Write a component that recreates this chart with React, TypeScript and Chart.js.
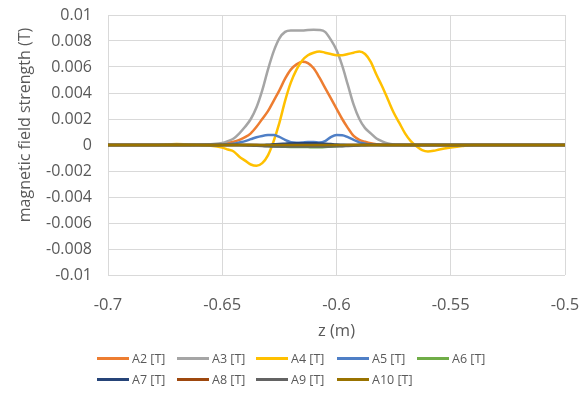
import React, { useEffect, useRef } from "react";
import { Chart, registerables } from "chart.js";

Chart.register(...registerables);

// z positions (m)
const zValues = [
  -0.7, -0.68, -0.67, -0.66, -0.655,
  -0.65, -0.6475, -0.645, -0.6425, -0.64, -0.6375, -0.635, -0.6325, -0.63, -0.6275,
  -0.625, -0.6225, -0.62, -0.6175, -0.615, -0.6125, -0.61, -0.6075, -0.605, -0.6025,
  -0.6, -0.5975, -0.595, -0.5925, -0.59, -0.5875, -0.585, -0.5825, -0.58, -0.5775,
  -0.575, -0.5725, -0.57, -0.5675, -0.565, -0.5625, -0.56, -0.5575, -0.555,
  -0.55, -0.545, -0.54, -0.52, -0.5,
];

const a2 = [
  0, 0, 0, 0, 0.00002,
  0.00008, 0.00015, 0.00025, 0.0004, 0.0006, 0.0009, 0.0014, 0.002, 0.0026, 0.0034,
  0.0042, 0.0051, 0.0058, 0.0062, 0.0064, 0.0063, 0.0059, 0.0052, 0.0044, 0.0036,
  0.0028, 0.002, 0.0013, 0.0007, 0.0004, 0.00025, 0.00013, 0.00006, 0.00002, 0,
  0, 0, 0, 0, 0, 0, 0, 0, 0,
  0, 0, 0, 0, 0,
];
const a3 = [
  0, 0, 0, 0.00002, 0.00006,
  0.00015, 0.0003, 0.0005, 0.0009, 0.0014, 0.002, 0.0029, 0.0042, 0.0058, 0.0072,
  0.0082, 0.0087, 0.0088, 0.0088, 0.0088, 0.00885, 0.00887, 0.00885, 0.0087, 0.0081,
  0.0073, 0.0061, 0.0046, 0.0031, 0.002, 0.0013, 0.0009, 0.0005, 0.00028, 0.00012,
  0.00004, 0.00001, 0, 0, 0, 0, 0, 0, 0,
  0, 0, 0, 0, 0,
];
const a4 = [
  0, 0, 0.00008, 0, -0.00005,
  -0.0002, -0.00035, -0.0005, -0.0009, -0.0012, -0.0015, -0.0016, -0.0014, -0.0008, 0.0003,
  0.0017, 0.0034, 0.0048, 0.0058, 0.0065, 0.0069, 0.0071, 0.0072, 0.0071, 0.007,
  0.0069, 0.0069, 0.007, 0.0071, 0.0072, 0.007, 0.0064, 0.0054, 0.0045, 0.0035,
  0.0025, 0.0017, 0.0009, 0.0003, -0.0001, -0.0004, -0.0005, -0.00045, -0.00035,
  -0.0002, -0.00008, 0, 0, 0,
];
const a5 = [
  0, 0, 0, 0, 0,
  0.00002, 0.00005, 0.0001, 0.0002, 0.0003, 0.00045, 0.0006, 0.0007, 0.00076, 0.00077,
  0.00062, 0.0004, 0.00022, 0.00018, 0.0002, 0.00024, 0.00024, 0.0002, 0.0003, 0.0006,
  0.00076, 0.00075, 0.0006, 0.0004, 0.0002, 0.0001, 0.00004, 0.00001, 0, 0,
  0, 0, 0, 0, 0, 0, 0, 0, 0,
  0, 0, 0, 0, 0,
];
const a6 = [
  0, 0, 0, 0, 0,
  0, 0, 0, 0, 0, 0, -0.00002, -0.00005, -0.00008, -0.0001,
  -0.00012, -0.00014, -0.00015, -0.00015, -0.00015, -0.00016, -0.00018, -0.00017, -0.00015, -0.00012,
  -0.0001, -0.00007, -0.00005, -0.00002, 0, 0, 0, 0, 0, 0,
  0, 0, 0, 0, 0, 0, 0, 0, 0,
  0, 0, 0, 0, 0,
];
const a7 = [
  0, 0, 0, 0, 0,
  0, 0, 0, 0, 0, 0, 0, 0, 0.00002, 0.00005,
  0.00008, 0.0001, 0.00012, 0.00013, 0.00014, 0.00014, 0.00013, 0.00012, 0.0001, 0.00007,
  0.00004, 0.00002, 0, 0, 0, 0, 0, 0, 0, 0,
  0, 0, 0, 0, 0, 0, 0, 0, 0,
  0, 0, 0, 0, 0,
];
const a8 = [
  0, 0, 0, 0, 0,
  0, 0, 0, 0, 0, 0, 0, -0.00002, -0.00003, -0.00004,
  -0.00005, -0.00005, -0.00005, -0.00005, -0.00005, -0.00005, -0.00005, -0.00005, -0.00005, -0.00004,
  -0.00003, -0.00002, 0, 0, 0, 0, 0, 0, 0, 0,
  0, 0, 0, 0, 0, 0, 0, 0, 0,
  0, 0, 0, 0, 0,
];
const a9 = [
  0, 0, 0, 0, 0,
  0, 0, 0, 0, -0.00002, -0.00004, -0.00006, -0.00008, -0.0001, -0.00011,
  -0.00012, -0.00012, -0.00012, -0.00012, -0.00012, -0.00012, -0.00012, -0.00012, -0.00012, -0.00011,
  -0.0001, -0.00009, -0.00007, -0.00005, -0.00003, -0.00001, 0, 0, 0, 0,
  0, 0, 0, 0, 0, 0, 0, 0, 0,
  0, 0, 0, 0, 0,
];
const a10 = [
  0, 0, 0, 0, 0,
  0, 0, 0, 0, 0, 0, 0, 0, 0, 0,
  0, 0, 0, 0, 0, 0, 0, 0, 0, 0,
  0, 0, 0, 0, 0, 0, 0, 0, 0, 0,
  0, 0, 0, 0, 0, 0, 0, 0, 0,
  0, 0, 0, 0, 0,
];

const seriesNames = ["A2 [T]", "A3 [T]", "A4 [T]", "A5 [T]", "A6 [T]", "A7 [T]", "A8 [T]", "A9 [T]", "A10 [T]"];
const seriesValues = [a2, a3, a4, a5, a6, a7, a8, a9, a10];
const seriesColors = ["#ED7D31", "#A5A5A5", "#FFC000", "#4F7FC6", "#70AD47", "#264478", "#9E480E", "#636363", "#997300"];

const xTicks = [-0.7, -0.65, -0.6, -0.55, -0.5];
const yTicks = [-0.01, -0.008, -0.006, -0.004, -0.002, 0, 0.002, 0.004, 0.006, 0.008, 0.01];

const xTitle = "z (m)";
const yTitle = "magnetic field strength (T)";

const FONT = "'Open Sans', 'Liberation Sans', sans-serif";
const TEXT = "#595959";
const GRID = "#D9D9D9";
const CLEAR = "rgba(0,0,0,0)";

const legendCols = [97, 177, 256, 337, 417];
const legendRows = [358, 379];

const yTitlePlugin = {
  id: "yTitleDraw",
  afterDraw(chart: any) {
    const ctx = chart.ctx;
    ctx.save();
    ctx.translate(25, 125);
    ctx.rotate(-Math.PI / 2);
    ctx.font = `16px ${FONT}`;
    ctx.fillStyle = TEXT;
    ctx.textAlign = "center";
    ctx.textBaseline = "middle";
    ctx.fillText(yTitle, 0, 0);
    ctx.restore();
  },
};

export default function App() {
  const canvasRef = useRef<HTMLCanvasElement | null>(null);

  useEffect(() => {
    const canvas = canvasRef.current;
    if (!canvas) return;
    const datasets = seriesNames.map((name, i) => ({
      label: name,
      data: zValues.map((z, k) => ({ x: z, y: seriesValues[i][k] })),
      borderColor: seriesColors[i],
      backgroundColor: seriesColors[i],
      borderWidth: 2.5,
      pointRadius: 0,
      cubicInterpolationMode: "monotone" as const,
      fill: false,
      order: seriesNames.length - i,
    }));
    const chart = new Chart(canvas, {
      type: "line",
      data: { datasets },
      plugins: [yTitlePlugin],
      options: {
        animation: false,
        responsive: false,
        maintainAspectRatio: false,
        layout: { padding: { top: 15, right: 16, bottom: 53, left: 0 } },
        plugins: { legend: { display: false }, tooltip: { enabled: false } },
        scales: {
          x: {
            type: "linear",
            min: -0.7,
            max: -0.5,
            afterBuildTicks: (s: any) => {
              s.ticks = xTicks.map((v) => ({ value: v }));
            },
            afterFit: (s: any) => {
              s.height = 66;
            },
            ticks: {
              padding: 0,
              color: TEXT,
              font: { family: FONT, size: 16.5 },
              callback: (v: any) => String(Number(Number(v).toFixed(3))),
              maxRotation: 0,
            },
            grid: { color: GRID, lineWidth: 1, drawTicks: true, tickLength: 20, tickColor: CLEAR },
            border: { display: false },
            title: {
              display: true,
              text: xTitle,
              color: TEXT,
              font: { family: FONT, size: 16.5 },
              padding: { top: 0, bottom: 0 },
            },
          },
          y: {
            type: "linear",
            min: -0.01,
            max: 0.01,
            afterBuildTicks: (s: any) => {
              s.ticks = yTicks.map((v) => ({ value: v }));
            },
            afterFit: (s: any) => {
              s.width = 108;
            },
            ticks: {
              padding: 0,
              color: TEXT,
              font: { family: FONT, size: 16 },
              callback: (v: any) => String(Number(Number(v).toFixed(4))),
            },
            grid: { color: GRID, lineWidth: 1, drawTicks: true, tickLength: 16, tickColor: CLEAR },
            border: { display: false },
            title: { display: false, text: yTitle },
          },
        },
      },
    });
    return () => chart.destroy();
  }, []);

  return (
    <div style={{ position: "fixed", left: 0, top: 0, width: 581, height: 394, background: "#fff" }}>
      <canvas ref={canvasRef} width={581} height={394} style={{ display: "block" }} />
      {seriesNames.map((name, i) => {
        const row = i < 5 ? 0 : 1;
        const col = i < 5 ? i : i - 5;
        return (
          <div
            key={name}
            style={{
              position: "absolute",
              left: legendCols[col],
              top: legendRows[row] - 9,
              height: 18,
              display: "flex",
              alignItems: "center",
              fontFamily: FONT,
              fontSize: 12.5,
              color: TEXT,
              whiteSpace: "nowrap",
            }}
          >
            <span style={{ display: "inline-block", width: 32, height: 3, background: seriesColors[i], marginRight: 3 }} />
            <span>{name}</span>
          </div>
        );
      })}
    </div>
  );
}
